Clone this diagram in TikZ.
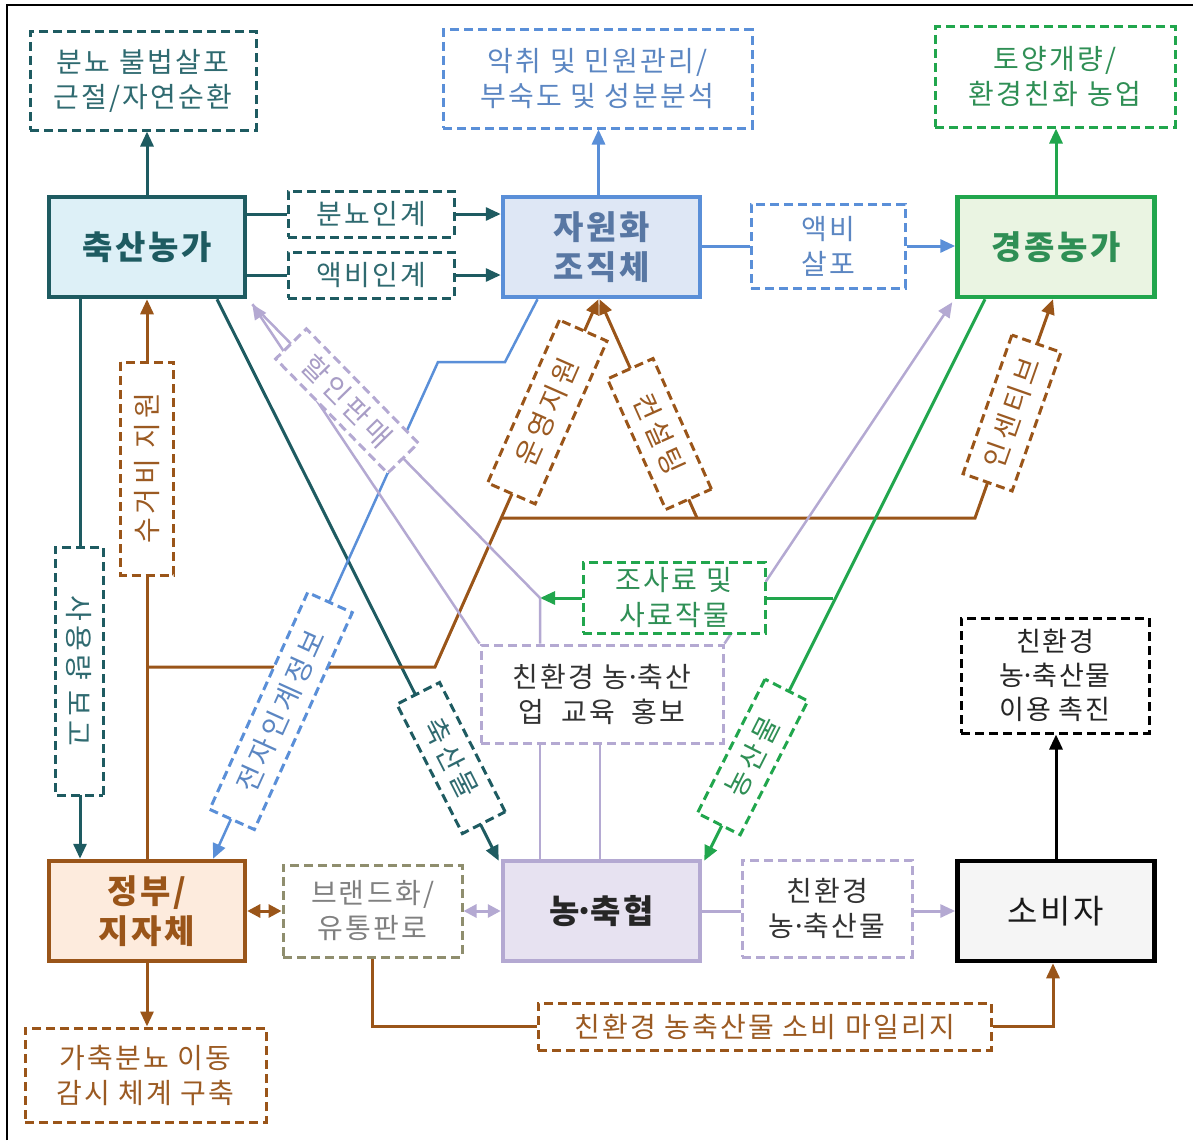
\documentclass[tikz,border=0pt]{standalone}
\usepackage{fontspec}
\setmainfont{Noto Sans CJK KR}
\usetikzlibrary{arrows.meta,calc}
\pgfdeclarelayer{bg}
\pgfsetlayers{bg,main}
\newcommand{\mdot}{\makebox[0.32em]{·}}
\definecolor{teal1}{HTML}{1E5B61}
\definecolor{tealfill}{HTML}{DDF0F7}
\definecolor{tealtxt}{HTML}{2F6A70}
\definecolor{blue1}{HTML}{5A8FD8}
\definecolor{bluefill}{HTML}{DEE7F5}
\definecolor{bluetxt}{HTML}{5B86C2}
\definecolor{bluemain}{HTML}{5877A3}
\definecolor{green1}{HTML}{21A64D}
\definecolor{greenfill}{HTML}{EAF4E2}
\definecolor{greentxt}{HTML}{2F8F55}
\definecolor{brown1}{HTML}{9A5519}
\definecolor{brownfill}{HTML}{FDEBDD}
\definecolor{browntxt}{HTML}{9B5A22}
\definecolor{lav1}{HTML}{B4A9D2}
\definecolor{lavfill}{HTML}{E7E2F1}
\definecolor{lavtxt}{HTML}{A89DC6}
\definecolor{olive1}{HTML}{8F8E6E}
\definecolor{gray1}{HTML}{808080}
\definecolor{dark1}{HTML}{333333}
\tikzset{
 mainbox/.style={draw, line width=4.5pt, minimum width=196pt, minimum height=100pt, inner sep=0pt, align=center, font=\fontsize{33}{40}\selectfont\bfseries\addfontfeatures{LetterSpace=8}},
 dbox/.style={draw, line width=3pt, dash pattern=on 9pt off 5pt, fill=white, inner sep=0pt, align=center, font=\fontsize{28}{35}\selectfont\addfontfeatures{LetterSpace=8}},
 rbox/.style={dbox, font=\fontsize{28}{35}\selectfont\addfontfeatures{LetterSpace=14}},
 conn/.style={line width=3pt},
 thinconn/.style={line width=2.5pt},
 arr/.style={-{Triangle[length=15pt,width=13pt]}},
 darr/.style={{Triangle[length=13pt,width=13pt]}-{Triangle[length=13pt,width=13pt]}},
}
\begin{document}
\begin{tikzpicture}[x=1pt,y=-1pt]
\useasboundingbox (0,0) rectangle (1193,1140);
\draw[line width=2pt] (7,1140) -- (7,5) -- (1193,5);

% main nodes
\node[mainbox, draw=teal1, fill=tealfill, text=teal1] (ca) at (147,247) {축산농가};
\node[mainbox, draw=blue1, fill=bluefill, text=bluemain, minimum width=197pt] (jw) at (601.5,247) {자원화\\조직체};
\node[mainbox, draw=green1, fill=greenfill, text=greentxt, minimum width=197pt] (gj) at (1056,247) {경종농가};
\node[mainbox, draw=brown1, fill=brownfill, text=brown1] (gov) at (147,911) {정부/\\지자체};
\node[mainbox, draw=lav1, fill=lavfill, text=black!85, minimum width=197pt] (nh) at (601.5,911) {농\mdot 축협};
\node[mainbox, draw=black, fill=black!4, text=black!90, minimum width=197pt, font=\fontsize{33}{40}\selectfont\addfontfeatures{LetterSpace=8}] (cs) at (1056,911) {소비자};

% top outcome boxes
\node[dbox, draw=teal1, text=tealtxt, minimum width=226pt, minimum height=98pt] (t1) at (143,81) {분뇨 불법살포\\근절/자연순환};
\node[dbox, draw=blue1, text=bluetxt, minimum width=309pt, minimum height=98pt] (t2) at (597.5,79) {악취 및 민원관리/\\부숙도 및 성분분석};
\node[dbox, draw=green1, text=greentxt, minimum width=240pt, minimum height=100pt] (t3) at (1055,77) {토양개량/\\환경친화 농업};

% row labels
\node[dbox, draw=teal1, text=tealtxt, minimum width=166pt, minimum height=46pt] (l1) at (371,214) {분뇨인계};
\node[dbox, draw=teal1, text=tealtxt, minimum width=166pt, minimum height=46pt] (l2) at (371,275) {액비인계};
\node[dbox, draw=blue1, text=bluetxt, minimum width=154pt, minimum height=84pt] (l3) at (828,246) {액비\\살포};

% rotated labels
\node[rbox, draw=brown1, text=browntxt, rotate=90, minimum width=213pt, minimum height=53pt] (sg) at (147,468.5) {수거비 지원};
\node[rbox, draw=teal1, text=tealtxt, rotate=-90, minimum width=248pt, minimum height=48pt] (sy) at (79,671) {사용량 보고};
\node[rbox, draw=lav1, text=lavtxt, rotate=-45.6, minimum width=160pt, minimum height=43pt] (hp) at (347,401) {할인판매};
\node[rbox, draw=blue1, text=bluetxt, rotate=65.7, minimum width=238pt, minimum height=49pt] (ej) at (281,711) {전자인계정보};
\node[rbox, draw=brown1, text=browntxt, rotate=66.2, minimum width=178pt, minimum height=52pt] (uj) at (547.3,412) {운영지원};
\node[rbox, draw=brown1, text=browntxt, rotate=-65.9, minimum width=143pt, minimum height=50pt] (cst) at (659.4,434) {컨설팅};
\node[rbox, draw=brown1, text=browntxt, rotate=70.6, minimum width=147pt, minimum height=52pt] (ic) at (1012,413) {인센티브};
\node[rbox, draw=teal1, text=tealtxt, rotate=-63.1, minimum width=145pt, minimum height=48pt] (cp) at (451,758) {축산물};
\node[rbox, draw=green1, text=greentxt, rotate=63.2, minimum width=150pt, minimum height=48pt] (np) at (752.6,757) {농산물};

% middle boxes
\node[dbox, draw=green1, text=greentxt, minimum width=182pt, minimum height=71pt] (js) at (674,597.5) {조사료 및\\사료작물};
\node[dbox, draw=lav1, text=dark1, minimum width=242pt, minimum height=98pt] (ed) at (602,694) {친환경 농\mdot 축산\\업\hspace{8pt} 교육\hspace{8pt} 홍보};
\node[dbox, draw=black, text=black!85, minimum width=188pt, minimum height=115pt, font=\fontsize{27}{34}\selectfont\addfontfeatures{LetterSpace=6}] (ip) at (1055,675.5) {친환경\\농\mdot 축산물\\이용 촉진};

% bottom boxes
\node[dbox, draw=olive1, text=gray1, minimum width=179pt, minimum height=92pt] (br) at (372.5,911) {브랜드화/\\유통판로};
\node[dbox, draw=lav1, text=dark1, minimum width=170pt, minimum height=97pt] (eco) at (827,908.5) {친환경\\농\mdot 축산물};
\node[dbox, draw=brown1, text=browntxt, minimum width=241pt, minimum height=94pt] (gm) at (145.5,1075) {가축분뇨 이동\\감시 체계 구축};
\node[dbox, draw=brown1, text=browntxt, minimum width=453pt, minimum height=47pt] (ml) at (764.5,1026.5) {친환경 농축산물 소비 마일리지};

% helper coordinates
\coordinate (b1) at (147,667);
\coordinate (b2) at (435,667);
\coordinate (b3) at (500.6,518);
\coordinate (b4) at (975,518);
\coordinate (b5) at (697,518);
\coordinate (e1) at (505,362);
\coordinate (e2) at (438,362);
\coordinate (g1) at (833,598);
\coordinate (v1) at (540,598);
\coordinate (tipL) at ($(ca.south east)+(5,5)$);
\coordinate (tipR) at ($(gj.south west)+(-3,3)$);

\begin{pgfonlayer}{bg}
% teal
\draw[conn, teal1, arr] (ca.north) -- (ca.north |- t1.south);
\draw[conn, teal1] (ca.east |- l1.west) -- (l1.west);
\draw[conn, teal1, arr] (l1.east) -- (l1.east -| jw.west);
\draw[conn, teal1] (ca.east |- l2.west) -- (l2.west);
\draw[conn, teal1, arr] (l2.east) -- (l2.east -| jw.west);
\draw[conn, teal1, arr] ([xshift=-67pt]ca.south) -- ([xshift=-67pt]gov.north);
\draw[conn, teal1, arr] ([xshift=70pt]ca.south) -- ([xshift=-2pt,yshift=-2pt]nh.north west);
% blue
\draw[conn, blue1, arr] ([xshift=-3pt]jw.north) -- ([xshift=-3pt]jw.north |- t2.south);
\draw[conn, blue1] (jw.east |- l3.west) -- (l3.west);
\draw[conn, blue1, arr] (l3.east) -- (l3.east -| gj.west);
\draw[thinconn, blue1, arr] ([xshift=-64pt]jw.south) -- (e1) -- (e2) -- ([xshift=66pt]gov.north);
% brown
\draw[conn, brown1, arr] (gov.north) -- (ca.south);
\draw[conn, brown1, arr] (b1) -- (b2) -- ([xshift=-3pt]jw.south);
\draw[conn, brown1, arr] (b3) -- (b4) -- ([xshift=-3pt]gj.south);
\draw[conn, brown1, arr] (b5) -- ([xshift=-2pt]jw.south);
\draw[conn, brown1, darr] (gov.east) -- (br.west);
\draw[conn, brown1, arr] (gov.south) -- (gov.south |- gm.north);
\draw[conn, brown1] (br.south) |- (ml.west);
\draw[conn, brown1, arr] (ml.east) -| ([xshift=-3pt]cs.south);
% green
\draw[conn, green1, arr] (gj.north) -- (gj.north |- t3.south);
\draw[conn, green1, arr] ([xshift=-71pt]gj.south) -- ([xshift=2pt,yshift=-2pt]nh.north east);
\draw[conn, green1] (g1) -- (js.east |- g1);
\draw[conn, green1, arr] (js.west |- v1) -- (v1);
% lavender
\draw[thinconn, lav1] ([xshift=-62pt]ed.north) -- (v1) -- (tipL);
\draw[thinconn, lav1, arr] (ed.north west) -- (tipL);
\draw[thinconn, lav1, arr] (ed.north east) -- (tipR);
\draw[thinconn, lav1] ([xshift=-62pt]ed.south) -- ([xshift=-62pt]ed.south |- nh.north);
\draw[thinconn, lav1] ([xshift=-2pt]ed.south) -- ([xshift=-2pt]ed.south |- nh.north);
\draw[conn, lav1, darr] (br.east) -- (nh.west);
\draw[conn, lav1] (nh.east) -- (eco.west |- nh.east);
\draw[conn, lav1, arr] (eco.east |- nh.east) -- (cs.west);
% black
\draw[conn, black, arr] (cs.north) -- (cs.north |- ip.south);
\end{pgfonlayer}
\end{tikzpicture}
\end{document}
